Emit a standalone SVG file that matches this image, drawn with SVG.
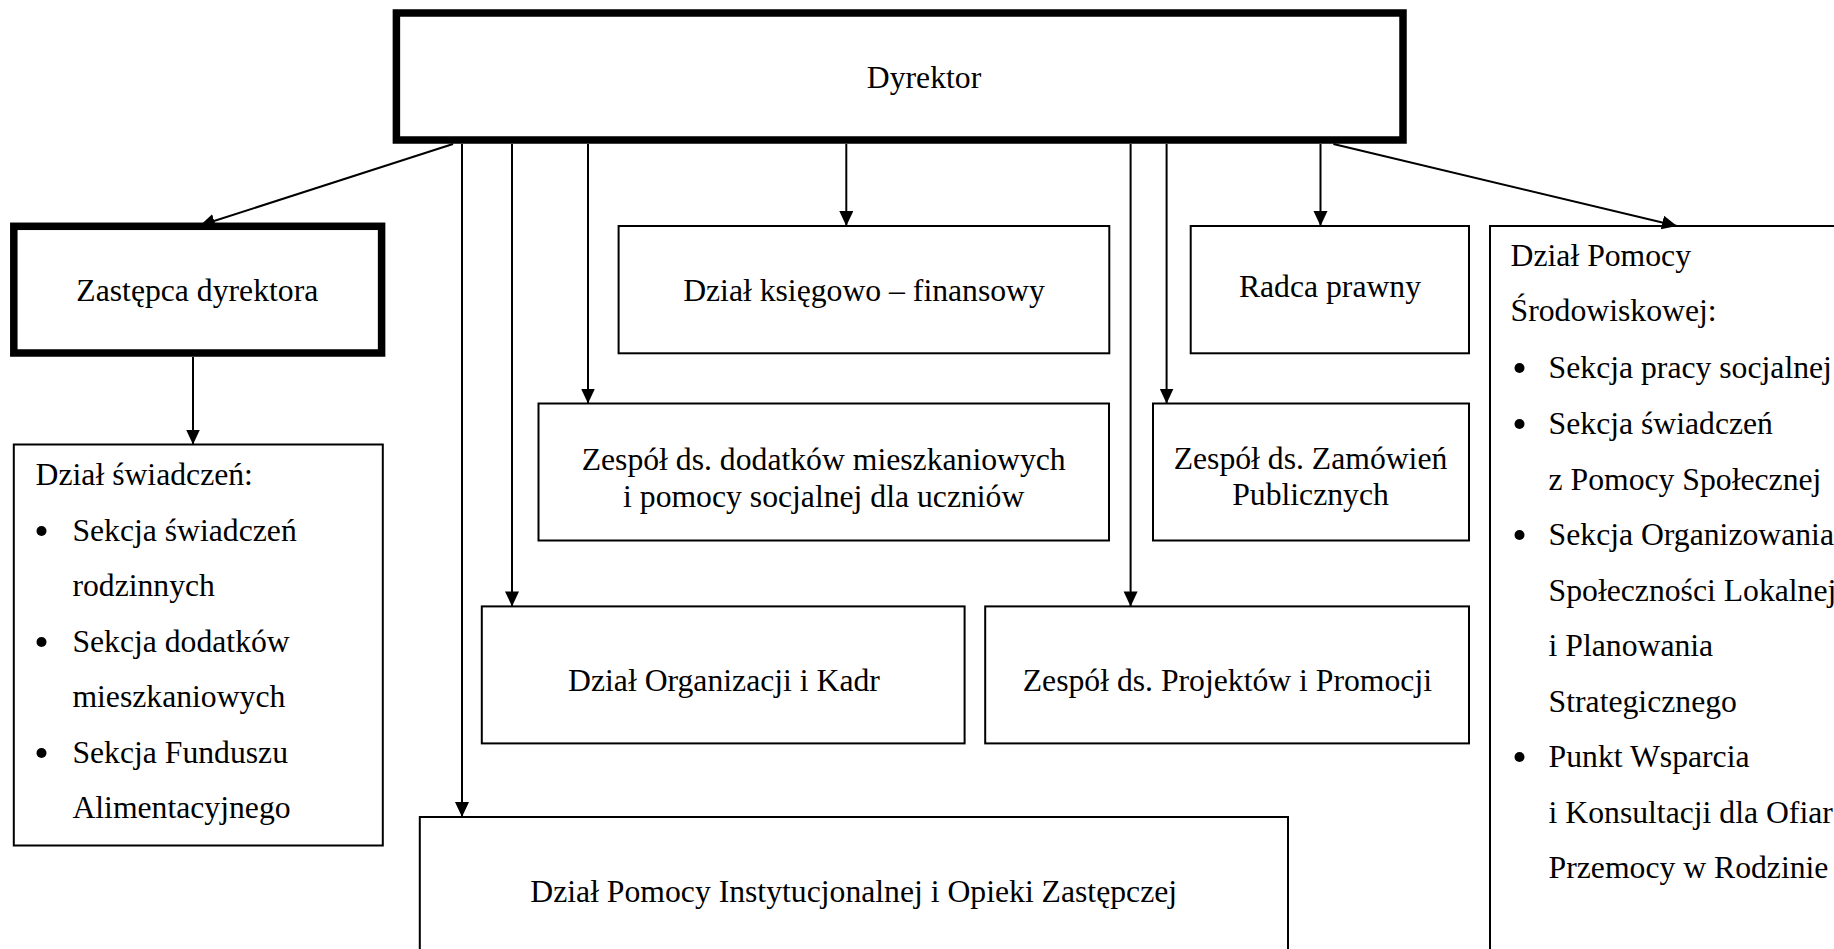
<svg xmlns="http://www.w3.org/2000/svg" width="1834" height="949" viewBox="0 0 1834 949">
<style>
  .box{fill:#fff;stroke:#000;stroke-width:2}
  .thick{fill:#fff;stroke:#000;stroke-width:7.5}
  text{font-family:"Liberation Serif","Times New Roman",serif;font-size:31.7px;fill:#000}
  .c{text-anchor:middle}
  .conn line{stroke:#000;stroke-width:2;fill:none}
  .dot{fill:#000}
</style>
<defs>
  <marker id="arr" markerUnits="userSpaceOnUse" markerWidth="16" markerHeight="16" viewBox="0 0 16 16" refX="15" refY="7" orient="auto">
    <path d="M0,0 L15,7 L0,14 Z" fill="#000"/>
  </marker>
</defs>
<rect width="1834" height="949" fill="#fff"/>

<g id="dyrektor">
  <rect class="thick" x="396.4" y="13" width="1006.6" height="127"/>
  <text class="c" x="924" y="88">Dyrektor</text>
</g>
<g id="zastepca">
  <rect class="thick" x="13.8" y="226.3" width="367.8" height="126.7"/>
  <text class="c" x="197.3" y="301">Zastępca dyrektora</text>
</g>
<g id="ksiegowy">
  <rect class="box" x="618.6" y="226" width="490.7" height="127.3"/>
  <text class="c" x="864" y="301">Dział księgowo – finansowy</text>
</g>
<g id="radca">
  <rect class="box" x="1190.7" y="226" width="278.3" height="127.3"/>
  <text class="c" x="1330" y="297">Radca prawny</text>
</g>
<g id="srodowiskowa">
  <rect class="box" x="1490" y="226" width="400" height="760"/>
  <text x="1510.6" y="266">Dział Pomocy</text>
  <text x="1510.6" y="321">Środowiskowej:</text>
  <circle class="dot" cx="1519.5" cy="368" r="5"/>
  <text x="1548.6" y="378">Sekcja pracy socjalnej</text>
  <circle class="dot" cx="1519.5" cy="424" r="5"/>
  <text x="1548.6" y="434">Sekcja świadczeń</text>
  <text x="1548.6" y="489.5">z Pomocy Społecznej</text>
  <circle class="dot" cx="1519.5" cy="535" r="5"/>
  <text x="1548.6" y="545">Sekcja Organizowania</text>
  <text x="1548.6" y="600.5">Społeczności Lokalnej</text>
  <text x="1548.6" y="656">i Planowania</text>
  <text x="1548.6" y="711.5">Strategicznego</text>
  <circle class="dot" cx="1519.5" cy="757" r="5"/>
  <text x="1548.6" y="767">Punkt Wsparcia</text>
  <text x="1548.6" y="822.5">i Konsultacji dla Ofiar</text>
  <text x="1548.6" y="878">Przemocy w Rodzinie</text>
</g>
<g id="swiadczenia">
  <rect class="box" x="13.8" y="444.5" width="369" height="401"/>
  <text x="35.6" y="485">Dział świadczeń:</text>
  <circle class="dot" cx="41.5" cy="531" r="5"/>
  <text x="72.4" y="540.5">Sekcja świadczeń</text>
  <text x="72.4" y="596">rodzinnych</text>
  <circle class="dot" cx="41.5" cy="642" r="5"/>
  <text x="72.4" y="651.5">Sekcja dodatków</text>
  <text x="72.4" y="707">mieszkaniowych</text>
  <circle class="dot" cx="41.5" cy="753" r="5"/>
  <text x="72.4" y="762.5">Sekcja Funduszu</text>
  <text x="72.4" y="818">Alimentacyjnego</text>
</g>
<g id="dodatki">
  <rect class="box" x="538.5" y="403.5" width="570.5" height="137"/>
  <text class="c" x="823.7" y="469.5">Zespół ds. dodatków mieszkaniowych</text>
  <text class="c" x="823.7" y="506.5">i pomocy socjalnej dla uczniów</text>
</g>
<g id="zamowienia">
  <rect class="box" x="1153" y="403.5" width="316" height="137"/>
  <text class="c" x="1310.5" y="469">Zespół ds. Zamówień</text>
  <text class="c" x="1310.5" y="505">Publicznych</text>
</g>
<g id="kadry">
  <rect class="box" x="481.8" y="606.4" width="482.8" height="137"/>
  <text class="c" x="724" y="691">Dział Organizacji i Kadr</text>
</g>
<g id="projekty">
  <rect class="box" x="985.2" y="606.4" width="483.8" height="137"/>
  <text class="c" x="1227.4" y="691">Zespół ds. Projektów i Promocji</text>
</g>
<g id="instytucjonalna">
  <rect class="box" x="419.8" y="817" width="868.2" height="200"/>
  <text class="c" x="853.7" y="901.7">Dział Pomocy Instytucjonalnej i Opieki Zastępczej</text>
</g>

<g id="connectors" class="conn">
  <line x1="453" y1="144" x2="200" y2="225.5" marker-end="url(#arr)"/>
  <line x1="193" y1="357" x2="193" y2="444.5" marker-end="url(#arr)"/>
  <line x1="462" y1="144" x2="462" y2="817" marker-end="url(#arr)"/>
  <line x1="512" y1="144" x2="512" y2="606.4" marker-end="url(#arr)"/>
  <line x1="588" y1="144" x2="588" y2="403.5" marker-end="url(#arr)"/>
  <line x1="846.3" y1="144" x2="846.3" y2="226" marker-end="url(#arr)"/>
  <line x1="1130.6" y1="144" x2="1130.6" y2="606.4" marker-end="url(#arr)"/>
  <line x1="1166.6" y1="144" x2="1166.6" y2="403.5" marker-end="url(#arr)"/>
  <line x1="1320.5" y1="144" x2="1320.5" y2="226" marker-end="url(#arr)"/>
  <line x1="1333.4" y1="144" x2="1677" y2="226" marker-end="url(#arr)"/>
</g>
</svg>
